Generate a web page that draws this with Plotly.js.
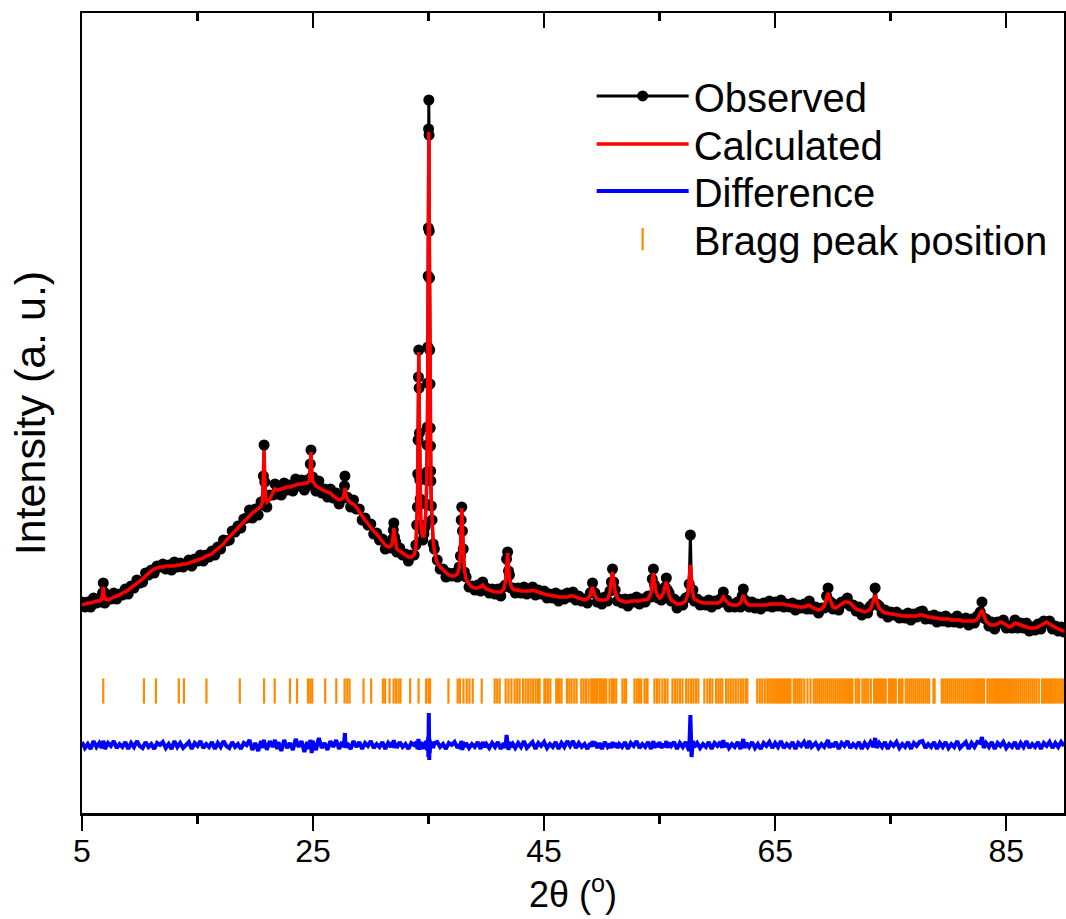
<!DOCTYPE html>
<html>
<head>
<meta charset="utf-8">
<script src="https://cdn.plot.ly/plotly-3.0.1.min.js"></script>
<style>
html,body{margin:0;padding:0;background:#ffffff;}
#chart{width:1066px;height:919px;}
</style>
</head>
<body>
<div id="chart"></div>
<script>
// 2-theta positions (degrees)
const twoTheta = [
5.00,5.25,5.50,5.75,6.00,6.25,6.50,6.70,6.78,6.84,6.90,6.98,7.25,7.50,7.75,8.00,8.25,8.50,8.75,9.00,9.25,9.50,9.75,
10.00,10.25,10.50,10.75,11.00,11.25,11.50,11.75,12.00,12.25,12.50,12.75,13.00,13.25,13.50,13.75,14.00,14.25,14.50,14.75,
15.00,15.25,15.50,15.75,16.00,16.25,16.50,16.75,17.00,17.25,17.50,17.75,18.00,18.25,18.50,18.75,19.00,19.25,19.50,19.75,
20.00,20.25,20.50,20.62,20.70,20.76,20.82,20.90,21.00,21.25,21.50,21.70,21.90,22.00,22.25,22.50,22.75,23.00,23.25,23.50,23.75,24.00,24.25,24.50,24.68,24.76,24.82,24.88,24.96,
25.25,25.50,25.75,26.00,26.25,26.50,26.75,27.00,27.25,27.50,27.65,27.72,27.76,27.82,27.95,28.25,28.50,28.75,29.00,29.25,29.50,29.75,
30.00,30.25,30.50,30.75,31.00,31.25,31.50,31.75,31.88,31.95,31.99,32.05,32.15,32.25,32.50,32.75,33.00,33.25,
33.50,33.75,33.90,33.97,34.03,34.06,34.09,34.12,34.15,34.18,34.21,34.24,34.27,34.33,34.40,34.50,34.60,34.70,34.78,34.84,34.86,34.88,34.90,34.92,34.94,34.96,34.98,35.00,35.02,35.04,35.06,35.08,35.10,35.12,35.14,35.16,35.18,35.20,35.24,35.30,35.40,35.50,35.75,
36.00,36.25,36.50,36.75,37.00,37.25,37.50,37.65,37.75,37.82,37.87,37.93,38.00,38.10,38.25,38.50,38.75,39.00,39.25,39.50,39.68,39.85,40.00,40.25,40.50,40.75,41.00,41.25,
41.50,41.65,41.75,41.84,41.92,42.00,42.15,42.30,42.50,42.75,43.00,43.25,43.50,43.75,44.00,44.25,44.50,44.75,45.00,45.25,45.50,45.75,46.00,46.25,46.50,46.75,47.00,47.25,47.50,47.75,48.00,48.25,48.50,48.75,
49.00,49.10,49.19,49.28,49.40,49.60,49.80,50.00,50.25,50.50,50.70,50.82,50.92,51.02,51.15,51.35,51.50,51.75,52.00,52.25,52.50,52.75,53.00,53.25,53.50,53.75,54.00,54.25,54.36,54.46,54.56,54.70,54.85,55.00,55.15,55.35,55.48,55.58,55.68,55.82,
56.00,56.25,56.50,56.75,57.00,57.25,57.45,57.56,57.66,57.76,57.88,58.00,58.25,58.50,58.75,59.00,59.25,59.50,59.75,60.00,60.25,60.40,60.51,60.62,60.80,61.00,61.25,61.50,61.75,62.00,62.14,62.24,62.34,62.50,62.75,63.00,63.25,63.50,63.75,
64.00,64.25,64.50,64.75,65.00,65.25,65.50,65.75,66.00,66.25,66.50,66.75,67.00,67.25,67.50,67.75,67.95,68.15,68.50,68.75,69.00,69.25,69.45,69.58,69.70,69.90,70.00,70.25,70.50,70.75,71.00,71.25,71.50,71.75,
72.00,72.25,72.50,72.75,73.00,73.25,73.50,73.65,73.80,74.00,74.25,74.50,74.75,75.00,75.25,75.50,75.75,76.00,76.25,76.50,76.75,77.00,77.25,77.50,77.75,78.00,78.25,78.50,78.75,79.00,79.25,79.50,79.75,
80.00,80.25,80.50,80.75,81.00,81.25,81.50,81.75,82.00,82.25,82.50,82.75,82.90,83.05,83.25,83.50,83.75,84.00,84.25,84.50,84.75,85.00,85.25,85.50,85.75,86.00,86.25,86.50,86.75,87.00,87.25,87.50,87.75,88.00,88.25,88.50,88.75,89.00,89.25,89.50,89.75,90.00
];

// Observed intensity (a. u.)
const yObserved = [
212,207,212,207,216,211,215,212,221,231,222,211,216,215,221,215,220,219,225,220,228,226,234,
231,232,241,239,244,241,248,247,250,245,249,244,252,247,251,247,250,254,248,255,
253,259,253,259,257,263,259,267,265,274,273,274,283,282,288,286,295,296,304,296,
305,299,312,309,338,369,332,316,307,319,319,330,320,327,319,331,324,329,323,335,328,334,324,334,329,350,364,337,337,
323,333,321,325,317,325,316,321,310,318,316,328,338,317,317,307,314,305,305,294,296,289,
290,280,281,274,275,265,269,266,275,284,291,277,272,262,266,259,260,253,
259,259,269,289,307,340,374,437,464,426,381,334,315,289,285,274,280,287,310,334,342,369,387,431,467,538,586,685,714,679,583,536,464,430,386,368,343,333,308,294,270,265,254,
245,245,237,241,238,241,237,247,258,294,307,283,265,242,237,227,228,224,229,223,232,225,226,221,225,220,225,218,
227,229,255,262,243,239,226,226,221,226,221,227,220,223,227,219,224,220,223,216,220,216,221,213,219,215,221,217,222,214,218,213,215,211,
221,222,231,222,221,212,216,210,217,213,223,232,245,232,224,213,215,211,215,208,215,212,217,210,215,212,218,217,235,245,229,224,216,219,214,223,227,236,224,221,
213,215,206,212,209,216,217,230,279,222,224,213,215,209,212,209,214,207,213,210,215,212,222,213,214,207,210,207,212,207,218,225,212,213,207,212,206,210,205,
211,208,213,207,212,208,214,207,210,207,211,204,209,206,210,205,213,205,207,201,206,206,218,226,213,211,205,209,204,212,211,216,208,209,
203,207,199,204,201,208,211,226,210,208,201,204,197,202,199,202,196,199,196,201,194,200,197,202,203,195,198,195,199,192,197,193,198,
192,195,192,198,191,193,196,189,195,191,198,202,212,196,195,188,192,185,192,191,194,186,188,186,194,186,191,186,191,183,187,184,190,185,193,191,193,185,188,183,187,182
];

// Calculated intensity (a. u.)
const yCalculated = [
209,210,211,211,212,213,213,215,220,227,220,215,214,216,217,218,219,221,222,224,226,228,230,
232,235,238,241,243,245,246,247,247,248,248,248,248,249,249,250,250,251,252,253,
254,255,256,258,259,260,263,265,267,270,274,277,280,284,287,290,293,296,299,301,
303,305,308,312,335,364,335,314,312,315,321,325,324,324,325,326,327,327,328,329,330,330,331,331,333,345,362,345,333,
328,326,324,323,322,321,318,316,314,315,318,322,326,320,315,311,310,307,302,298,294,290,
286,283,280,276,272,269,267,268,272,282,286,280,270,265,263,261,259,257,
257,259,266,286,311,335,377,431,462,431,377,337,313,291,282,278,278,290,306,331,346,364,390,425,472,530,598,657,682,657,598,530,472,425,390,364,346,330,310,292,273,263,251,
247,244,241,239,238,238,240,246,262,290,306,288,262,244,235,230,227,226,226,227,229,227,225,224,223,222,222,222,
225,232,245,261,248,236,228,225,224,224,223,223,223,223,224,223,222,221,220,219,219,218,218,217,217,217,217,218,218,217,216,215,214,215,
219,224,227,223,218,215,214,214,214,215,222,235,242,234,222,216,214,213,212,212,213,213,213,213,214,214,215,221,233,241,232,222,218,216,217,222,229,232,227,219,
214,212,210,210,211,213,220,236,249,234,220,215,213,212,211,211,211,211,211,211,212,215,217,215,212,210,209,209,209,211,216,219,215,211,209,209,209,209,209,
209,209,210,210,210,210,210,210,209,209,208,208,207,207,207,208,209,207,205,204,205,208,216,221,216,209,207,206,208,210,212,212,211,208,
205,204,203,202,203,205,213,219,213,206,203,201,201,200,200,199,199,198,198,198,198,198,198,199,199,198,197,197,196,196,195,195,195,
195,194,194,194,194,193,193,193,193,193,195,200,204,199,193,190,189,189,190,192,191,189,187,188,191,190,189,188,187,186,186,186,187,189,191,192,190,188,186,185,184,183
];

// Difference curve (observed - calculated, shifted below the pattern)
const yDifference = [
72,66,70,65,73,67,71,66,70,73,71,65,71,68,73,66,70,67,72,65,71,67,73,
68,66,72,67,70,65,71,69,72,66,70,65,73,67,71,66,69,72,65,71,
68,73,66,70,67,72,65,71,67,73,68,66,72,67,70,65,71,69,74,64,
71,63,73,66,72,74,66,71,64,73,67,74,65,72,63,74,66,71,64,75,67,73,62,72,65,74,71,61,73,
64,76,66,71,64,73,67,74,65,72,67,75,81,66,71,65,73,67,72,65,71,68,
73,66,70,67,72,65,71,67,72,71,74,66,71,66,72,67,70,65,
71,69,72,72,65,74,66,75,71,64,73,66,71,67,72,65,71,66,73,72,65,74,66,75,64,77,57,97,101,91,54,75,61,74,65,73,66,72,67,71,66,71,72,
67,70,65,71,69,72,66,70,65,73,70,64,72,67,71,66,70,67,72,65,72,67,70,66,71,67,72,65,
71,66,79,70,64,72,67,70,66,71,67,73,66,69,72,65,71,68,72,66,70,67,72,65,71,67,73,68,73,66,71,67,70,65,
71,67,73,68,72,66,71,65,72,67,70,66,72,67,71,66,70,67,72,65,71,68,73,66,70,67,72,65,71,73,66,71,67,72,66,70,67,73,66,71,
68,72,65,71,67,72,66,63,99,57,73,67,71,66,70,67,72,65,71,68,72,66,74,67,71,66,70,67,72,65,71,75,66,71,67,72,66,70,65,
71,68,72,66,71,67,73,66,70,67,72,65,71,68,72,66,73,67,71,66,70,67,71,74,66,71,67,72,65,71,68,73,66,70,
67,72,65,71,67,72,67,76,66,71,67,72,65,71,68,72,66,70,67,72,65,71,68,72,73,66,70,67,72,65,71,67,72,
66,70,67,73,66,69,72,65,71,67,72,71,77,66,71,67,72,65,71,68,72,66,70,67,72,65,71,67,73,66,70,67,72,65,71,68,72,66,71,67,72,68
];

// Bragg reflection positions (degrees)
const braggPositions = [
6.84,10.36,11.40,13.38,13.82,15.77,18.66,20.76,21.68,23.00,23.61,24.56,24.76,24.93,26.05,27.01,27.73,27.96,28.16,29.37,30.03,
31.04,31.24,31.62,31.97,32.19,32.40,32.57,33.40,34.13,34.78,34.99,35.13,36.72,37.52,37.72,38.02,38.30,38.54,38.82,39.60,
40.72,40.94,41.15,41.67,41.91,42.17,42.45,42.67,42.88,43.17,43.40,43.62,43.83,44.05,44.27,44.48,44.61,45.02,45.13,45.33,45.54,
46.05,46.21,46.34,46.51,46.97,47.18,47.38,47.61,47.81,48.22,48.42,48.63,48.85,49.08,49.22,49.36,49.51,49.62,49.80,49.94,
50.08,50.23,50.38,50.66,50.88,51.05,51.24,51.78,51.96,52.10,52.82,53.02,53.21,53.40,53.69,53.86,53.95,54.55,54.77,54.98,
55.24,55.46,55.68,56.11,56.33,56.54,56.76,56.98,57.29,57.49,57.71,57.92,58.14,58.35,58.87,59.13,59.35,59.56,59.88,60.08,60.26,60.43,
60.75,60.95,61.16,61.38,61.59,61.81,62.03,62.24,62.46,62.59,63.45,63.67,63.88,64.10,64.32,
64.49,64.66,64.83,65.00,65.17,65.34,65.51,65.68,65.85,66.02,66.19,66.33,66.61,66.78,66.95,67.12,67.29,67.52,67.80,68.06,
68.34,68.51,68.68,68.85,69.02,69.19,69.36,69.53,69.70,69.87,70.04,70.21,70.38,70.55,70.72,70.89,71.06,71.23,71.40,71.57,71.69,
71.97,72.14,72.27,72.55,72.72,72.89,73.06,73.28,73.56,73.73,73.90,74.07,74.24,74.41,74.57,74.85,75.02,75.19,75.30,75.44,
75.72,75.89,76.02,76.30,76.47,76.64,76.81,76.98,77.15,77.32,77.49,77.66,77.83,78.00,78.17,78.33,78.70,78.80,
79.42,79.59,79.76,79.93,80.10,80.27,80.44,80.61,80.78,80.95,81.12,81.29,81.46,81.63,81.80,81.97,82.14,82.31,82.48,82.65,82.82,82.99,83.08,
83.36,83.53,83.70,83.87,84.04,84.21,84.38,84.55,84.72,84.89,85.06,85.23,85.40,85.57,85.74,85.91,86.08,86.25,86.42,86.59,86.76,86.93,
87.10,87.27,87.44,87.61,87.82,88.10,88.27,88.44,88.61,88.78,88.95,89.12,89.29,89.46,89.63,89.80,89.95
];

// Level (a. u.) at which the Bragg tick row is drawn
const braggLevel = 123;

// Axis ticks
const xMajorTicks = [5, 25, 45, 65, 85];
const xMinorTicks = [15, 35, 55, 75];

const FONT = 'Liberation Sans, Arial, sans-serif';
const LEGEND_FONT = {family: FONT, size: 40, color: '#000000'};

function legendAt(yTop) {
  return {
    x: 0.519, xanchor: 'left', y: yTop, yanchor: 'top',
    bgcolor: 'rgba(0,0,0,0)', borderwidth: 0,
    font: LEGEND_FONT, itemwidth: 92
  };
}

const traces = [
  {
    x: twoTheta, y: yObserved, name: 'Observed', type: 'scatter', mode: 'lines+markers',
    line: {color: '#000000', width: 3},
    marker: {color: '#000000', size: 11},
    legend: 'legend'
  },
  {
    x: twoTheta, y: yCalculated, name: 'Calculated', type: 'scatter', mode: 'lines',
    line: {color: '#ff0000', width: 3.5},
    legend: 'legend2'
  },
  {
    x: twoTheta, y: yDifference, name: 'Difference', type: 'scatter', mode: 'lines',
    line: {color: '#0000ff', width: 4},
    legend: 'legend3'
  },
  {
    x: braggPositions, y: braggPositions.map(() => braggLevel), name: 'Bragg peak position',
    type: 'scatter', mode: 'markers', xaxis: 'x2', yaxis: 'y',
    marker: {symbol: 'line-ns', size: 18, color: '#ff8a00', line: {color: '#ff8a00', width: 2.2}},
    legend: 'legend4'
  }
];

const layout = {
  width: 1066, height: 919,
  margin: {l: 82, r: 2, t: 13, b: 106},
  paper_bgcolor: '#ffffff', plot_bgcolor: '#ffffff',
  font: {family: FONT, color: '#000000'},
  showlegend: true,
  hovermode: false,
  xaxis: {
    range: [5, 90], tickmode: 'array', tickvals: xMajorTicks, ticktext: xMajorTicks.map(String),
    ticks: 'outside', ticklen: 15, tickwidth: 2.5, tickcolor: '#000000',
    minor: {tickmode: 'array', tickvals: xMinorTicks, ticks: 'outside', ticklen: 8, tickwidth: 2.5, tickcolor: '#000000'},
    showline: true, linewidth: 2.5, linecolor: '#000000', mirror: true,
    showgrid: false, zeroline: false,
    ticklabelstandoff: -7,
    tickfont: {family: FONT, size: 32, color: '#000000'},
    title: {text: '2θ (<sup>o</sup>)', font: {family: FONT, size: 36, color: '#000000'}, standoff: 12}
  },
  xaxis2: {
    overlaying: 'x', side: 'top', anchor: 'y',
    range: [5, 90], tickmode: 'array', tickvals: xMajorTicks,
    ticks: 'inside', ticklen: 15, tickwidth: 2.5, tickcolor: '#000000',
    minor: {tickmode: 'array', tickvals: xMinorTicks, ticks: 'inside', ticklen: 8, tickwidth: 2.5, tickcolor: '#000000'},
    showticklabels: false, showline: false, showgrid: false, zeroline: false
  },
  yaxis: {
    range: [1, 801], showline: true, linewidth: 2.5, linecolor: '#000000', mirror: true,
    ticks: '', showticklabels: false, showgrid: false, zeroline: false,
    title: {text: 'Intensity (a. u.)', font: {family: FONT, size: 43, color: '#000000'}, standoff: 21}
  },
  legend: legendAt(0.937),
  legend2: legendAt(0.877),
  legend3: legendAt(0.818),
  legend4: legendAt(0.758)
};

Plotly.newPlot('chart', traces, layout, {displayModeBar: false, staticPlot: true});
</script>
</body>
</html>
